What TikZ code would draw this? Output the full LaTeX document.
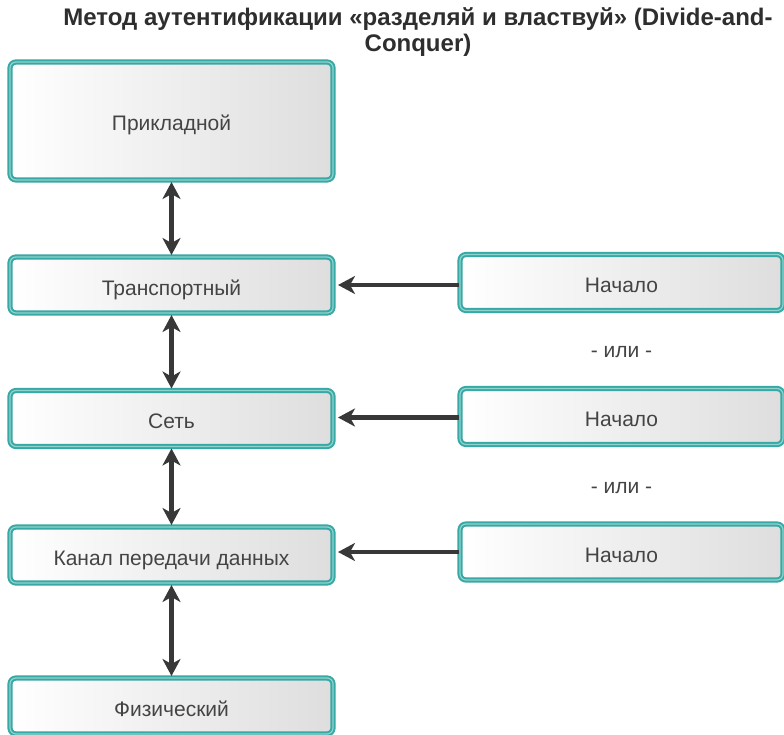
\documentclass[tikz,border=0pt]{standalone}
\usepackage{fontspec}
\setmainfont{Liberation Sans}
\usetikzlibrary{arrows.meta}
\definecolor{boxteal}{HTML}{38A8A4}
\definecolor{lightteal}{HTML}{8FD3CF}
\definecolor{txtgray}{HTML}{444444}
\definecolor{arrgray}{HTML}{383838}
\tikzset{
  x=1pt,y=1pt,
  layer/.style={rectangle, rounded corners=6pt, minimum width=323pt, minimum height=56pt,
    inner sep=0pt, left color=white, right color=black!13, draw=boxteal, line width=2pt,
    double=lightteal, double distance=1.2pt, font=\fontsize{21}{25}\selectfont, text=txtgray,
    text height=20pt, text depth=0pt,
    append after command={
      \pgfextra{\draw[black!33, line width=2pt, rounded corners=3pt, line cap=round]
        ([shift={(5pt,-5pt)}]\tikzlastnode.north west) -- ([shift={(-5pt,-5pt)}]\tikzlastnode.north east) -- ([shift={(-5pt,5pt)}]\tikzlastnode.south east);}
    }},
  twoway/.style={arrgray, line width=4.5pt, {Stealth[length=17pt,width=18pt,inset=5pt]}-{Stealth[length=17pt,width=18pt,inset=5pt]}, shorten <=1pt, shorten >=1pt},
  oneway/.style={arrgray, line width=4.5pt, -{Stealth[length=17pt,width=18pt,inset=5pt]}, shorten >=4pt},
  orlabel/.style={font=\fontsize{21}{25}\selectfont, text=txtgray},
  titlestyle/.style={font=\bfseries\fontsize{24}{26}\selectfont, text=black!82, align=center}
}
\begin{document}
\begin{tikzpicture}
\useasboundingbox (0,0) rectangle (784,-735);
\node[titlestyle] (title) at (418,-32) {Метод аутентификации «разделяй и властвуй» (Divide-and-\\Conquer)};
\node[layer, minimum height=118pt] (app) at (171.5,-121) {Прикладной};
\node[layer] (tr) at (171.5,-285) {Транспортный};
\node[layer] (net) at (171.5,-418.5) {Сеть};
\node[layer] (dl) at (171.5,-555) {Канал передачи данных};
\node[layer] (ph) at (171.5,-706) {Физический};
\node[layer] (s1) at (621.5,-282.5) {Начало};
\node[layer] (s2) at (621.5,-416.5) {Начало};
\node[layer] (s3) at (621.5,-552) {Начало};
\node[orlabel] (or1) at (621.5,-352) {- или -};
\node[orlabel] (or2) at (621.5,-488) {- или -};
\draw[twoway] (app) -- (tr);
\draw[twoway] (tr) -- (net);
\draw[twoway] (net) -- (dl);
\draw[twoway] (dl) -- (ph);
\draw[oneway] ([yshift=-2.5pt]s1.west) -- ([yshift=-2.5pt]s1.west -| tr.east);
\draw[oneway] ([yshift=-1pt]s2.west) -- ([yshift=-1pt]s2.west -| net.east);
\draw[oneway] (s3.west) -- (s3.west -| dl.east);
\end{tikzpicture}
\end{document}
